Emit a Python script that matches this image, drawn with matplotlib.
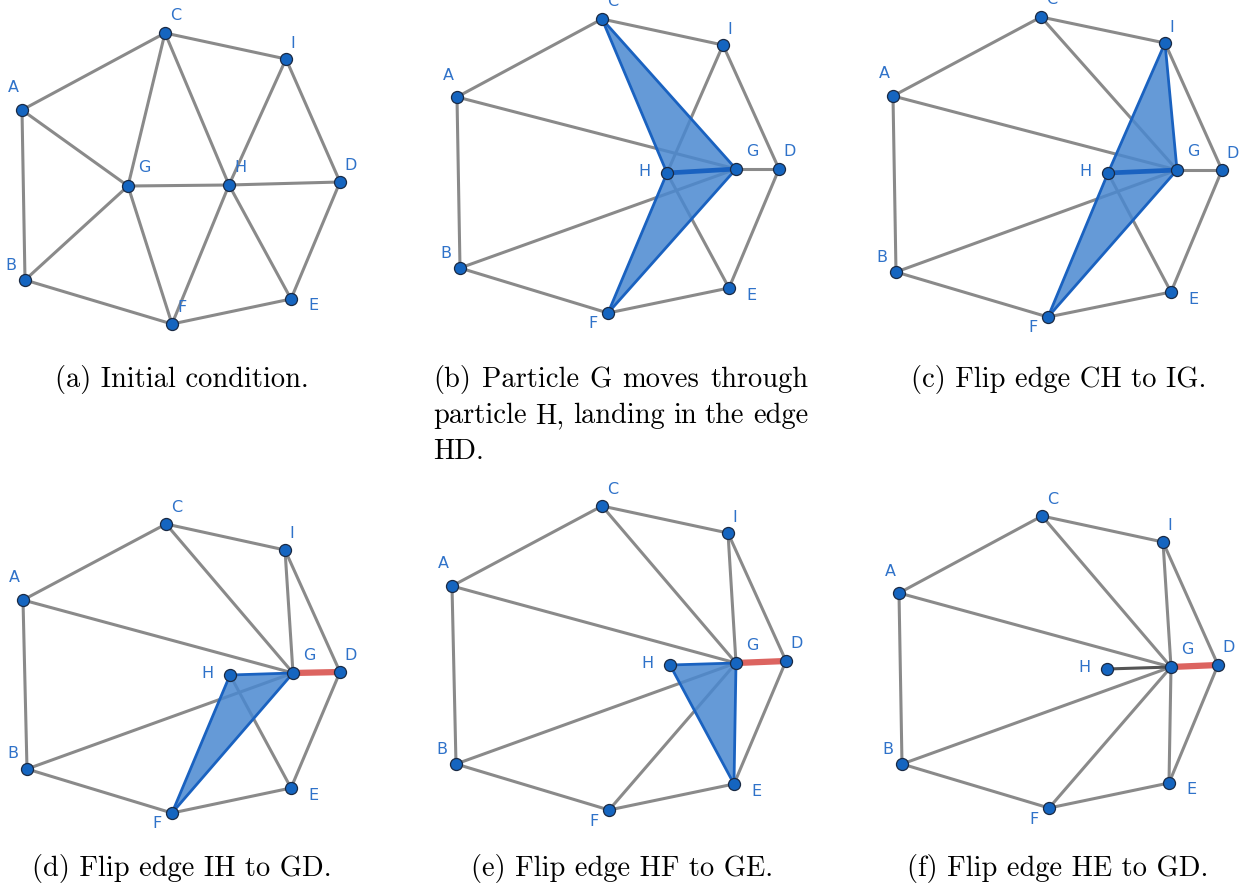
# six stages of the edge-flip sequence, drawn in pixel coordinates
import matplotlib.pyplot as plt
from matplotlib.patches import Polygon

names = ["A", "B", "C", "D", "E", "F", "G", "H", "I"]

# node positions per panel (x, y in image pixels)
pos_a = [(22, 110), (25, 280), (165, 33), (340, 182), (291, 299), (172, 324), (128, 186), (229, 185), (286, 59)]
pos_b = [(457, 97), (460, 268), (602, 19), (779, 169), (729, 288), (608, 313), (736, 169), (667, 173), (723, 45)]
pos_c = [(893, 96), (896, 272), (1041, 17), (1222, 170), (1171, 292), (1048, 317), (1177, 170), (1108, 173), (1165, 43)]
pos_d = [(23, 600), (27, 769), (166, 524), (340, 672), (291, 788), (172, 813), (293, 673), (230, 675), (285, 550)]
pos_e = [(452, 586), (456, 764), (602, 506), (786, 661), (734, 784), (609, 810), (736, 663), (670, 665), (728, 533)]
pos_f = [(899, 593), (902, 764), (1042, 516), (1218, 665), (1169, 783), (1049, 808), (1171, 667), (1107, 669), (1163, 542)]

edges_a = ["AC", "AG", "AB", "BG", "BF", "CG", "CH", "CI", "IH", "ID", "GH", "HD", "GF", "HF", "HE", "DE", "FE"]
edges_b = ["AC", "CI", "IH", "ID", "AG", "GD", "DE", "HE", "BG", "BF", "AB", "FE"]
edges_c = ["AC", "CI", "CG", "ID", "AG", "GD", "DE", "HE", "BG", "BF", "AB", "FE"]
edges_d = ["AC", "CI", "CG", "IG", "ID", "AG", "DE", "HE", "BG", "BF", "AB", "FE"]
edges_e = ["AC", "CI", "CG", "IG", "ID", "AG", "DE", "BG", "GF", "BF", "AB", "FE"]
edges_f = ["AC", "CI", "CG", "IG", "ID", "AG", "DE", "GE", "BG", "GF", "BF", "AB", "FE"]

# highlighted regions (blue) and edges
shade_b = ["CGFH"]
shade_c = ["IGFH"]
shade_d = ["HGF"]
shade_e = ["HGE"]
blue_edges_b = ["CH", "CG", "HF", "GF"]
blue_edges_c = ["IH", "IG", "HF", "GF"]
blue_edges_d = ["HG", "HF", "GF"]
blue_edges_e = ["HG", "HE", "GE"]
thick_blue = ["HG"]
red_edges = ["GD"]

captions = [
    "(a) Initial condition.",
    ["(b) Particle G moves through", "particle H, landing in the edge", "HD."],
    "(c) Flip edge CH to IG.",
    "(d) Flip edge IH to GD.",
    "(e) Flip edge HF to GE.",
    "(f) Flip edge HE to GD.",
]

gray = "#8a8a8a"
blue = "#1a62c0"
fill = "#4a88d0"
red = "#d9534f"
label_col = "#2f72c9"

label_off = {"A": (-9, -22), "B": (-14, -15), "C": (11, -17), "D": (11, -17), "E": (22, 7),
             "F": (-15, 11), "G": (16, -18), "H": (-23, -2), "I": (7, -16)}
label_off_a = dict(label_off, F=(10, -16), H=(11, -17))

panels = [
    (pos_a, edges_a, [], [], [], [], label_off_a),
    (pos_b, edges_b, shade_b, blue_edges_b, thick_blue, [], label_off),
    (pos_c, edges_c, shade_c, blue_edges_c, thick_blue, [], label_off),
    (pos_d, edges_d, shade_d, blue_edges_d, [], red_edges, label_off),
    (pos_e, edges_e, shade_e, blue_edges_e, [], red_edges, label_off),
    (pos_f, edges_f + ["HG"], [], [], [], red_edges, label_off),
]

fig = plt.figure(figsize=(12.46, 8.89), dpi=100)
ax = fig.add_axes([0, 0, 1, 1])
ax.set_xlim(0, 1246)
ax.set_ylim(889, 0)
ax.axis("off")


def seg(p, e, **kw):
    ax.plot([p[e[0]][0], p[e[1]][0]], [p[e[0]][1], p[e[1]][1]], **kw)


for k, (pos, edges, shades, bedges, tblue, redges, offs) in enumerate(panels):
    p = dict(zip(names, pos))
    for e in edges:
        c = "#555555" if (k == 5 and e == "HG") else gray
        seg(p, e, color=c, lw=2.2, solid_capstyle="round", zorder=1)
    for e in redges:
        seg(p, e, color=red, lw=4.5, alpha=0.9, solid_capstyle="butt", zorder=1.5)
    for s in shades:
        ax.add_patch(Polygon([p[n] for n in s], closed=True, facecolor=fill, alpha=0.85,
                             edgecolor="none", zorder=2))
    for e in bedges:
        seg(p, e, color=blue, lw=2.0, solid_capstyle="round", zorder=3)
    for e in tblue:
        seg(p, e, color=blue, lw=3.4, solid_capstyle="round", zorder=3)
    xs = [q[0] for q in pos]
    ys = [q[1] for q in pos]
    ax.scatter(xs, ys, s=75, color="#1565c0", edgecolors="#1a2a44", linewidths=0.9, zorder=4)
    for n in names:
        dx, dy = offs[n]
        ax.text(p[n][0] + dx, p[n][1] + dy, n, color=label_col, fontsize=11.5,
                ha="center", va="center", family="DejaVu Sans", zorder=5)

# captions (baseline positions)
cap_kw = dict(family="cmr10", fontsize=20.5, color="black", va="baseline")
ax.text(182, 387, captions[0], ha="center", **cap_kw)
ax.text(1059, 387, captions[2], ha="center", **cap_kw)
ax.text(182, 876, captions[3], ha="center", **cap_kw)
ax.text(622, 876, captions[4], ha="center", **cap_kw)
ax.text(1058, 876, captions[5], ha="center", **cap_kw)

# caption (b): justified paragraph between x=433 and x=808
renderer = fig.canvas.get_renderer()
left, right = 433, 808
for i, line in enumerate(captions[1]):
    y = 387 + 36 * i
    words = line.split(" ")
    if i == len(captions[1]) - 1:
        ax.text(left, y, line, ha="left", **cap_kw)
        continue
    objs = [ax.text(0, y, w, ha="left", **cap_kw) for w in words]
    widths = [t.get_window_extent(renderer).width for t in objs]
    gap = (right - left - sum(widths)) / (len(words) - 1)
    x = left
    for t, w in zip(objs, widths):
        t.set_x(x)
        x += w + gap

fig.savefig("out.png", dpi=100)
